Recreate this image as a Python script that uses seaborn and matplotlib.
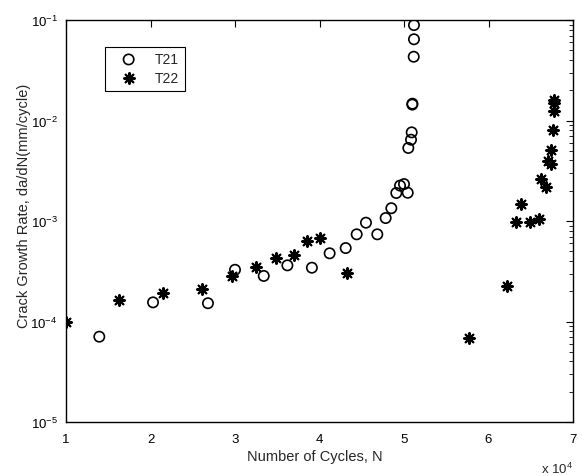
import matplotlib
matplotlib.use("Agg")
from matplotlib import pyplot as plt
from matplotlib.ticker import LogFormatterMathtext, LogLocator, FixedLocator
import pandas as pd
import seaborn as sns

# T21 specimen (circles)
t21_cycles = [13940, 20300, 26800, 30000, 33400, 36200, 39100, 41200, 43100,
              44400, 45500, 46840, 47830, 48500, 49090, 49530, 50000, 50440,
              50510, 50830, 50910, 50980, 51000, 51150, 51180, 51180]
t21_rate = [7.06e-5, 1.55e-4, 1.52e-4, 3.27e-4, 2.84e-4, 3.62e-4, 3.43e-4, 4.77e-4, 5.38e-4,
            7.37e-4, 9.62e-4, 7.37e-4, 1.07e-3, 1.34e-3, 1.90e-3, 2.25e-3, 2.33e-3, 1.91e-3,
            5.33e-3, 6.44e-3, 7.62e-3, 1.44e-2, 1.47e-2, 4.31e-2, 6.43e-2, 8.9e-2]

# T22 specimen (asterisks)
t22_cycles = [10000, 16270, 21440, 26100, 29650, 32450, 34850, 37000, 38560, 40100,
              43300, 57730, 62190, 63220, 63850, 64900, 65940, 66180, 66800, 67040,
              67360, 67360, 67600, 67750, 67790, 67800]
t22_rate = [1.0e-4, 1.64e-4, 1.92e-4, 2.10e-4, 2.82e-4, 3.46e-4, 4.26e-4, 4.62e-4, 6.28e-4, 6.73e-4,
            3.02e-4, 6.8e-5, 2.24e-4, 9.7e-4, 1.47e-3, 9.84e-4, 1.05e-3, 2.6e-3, 2.18e-3, 3.93e-3,
            3.72e-3, 5.13e-3, 8.03e-3, 1.24e-2, 1.5e-2, 1.61e-2]

x_ticks = [10000, 20000, 30000, 40000, 50000, 60000, 70000]
x_tick_labels = ["1", "2", "3", "4", "5", "6", "7"]

df21 = pd.DataFrame({"N": t21_cycles, "rate": t21_rate})
df22 = pd.DataFrame({"N": t22_cycles, "rate": t22_rate})

sns.set_style("white")
plt.rcParams["font.family"] = ["Liberation Sans", "DejaVu Sans"]
plt.rcParams["mathtext.default"] = "regular"

fig = plt.figure(figsize=(5.82, 4.77), dpi=100)
ax = fig.add_axes([66 / 582, 1 - 423 / 477, 507 / 582, 402 / 477])

sns.scatterplot(data=df21, x="N", y="rate", ax=ax, marker="o", s=55,
                facecolors="none", edgecolor="black", linewidth=1.2, label="T21")
sns.scatterplot(data=df22, x="N", y="rate", ax=ax, marker=(8, 2, 0), s=60,
                color="black", linewidth=1.5, label="T22")

ax.set_yscale("log")
ax.set_xlim(10000, 70000)
ax.set_ylim(1e-5, 1e-1)
ax.xaxis.set_major_locator(FixedLocator(x_ticks))
ax.set_xticklabels(x_tick_labels)
ax.yaxis.set_major_locator(LogLocator(base=10, numticks=10))
ax.yaxis.set_minor_locator(LogLocator(base=10, subs=range(2, 10), numticks=10))
ax.yaxis.set_major_formatter(LogFormatterMathtext())

ax.tick_params(which="both", direction="in", top=True, right=True,
               colors="black", labelsize=9.5)
ax.tick_params(which="major", length=5, width=0.8, pad=6)
ax.tick_params(axis="x", which="major", pad=8)
ax.tick_params(which="minor", length=3, width=0.6)
for sp in ax.spines.values():
    sp.set_color("black")
    sp.set_linewidth(1.0)

ax.set_xlabel("Number of Cycles, N", fontsize=10.5)
ax.set_ylabel("Crack Growth Rate, da/dN(mm/cycle)", fontsize=10.5)
ax.xaxis.set_label_coords(0.491, -0.068)
ax.yaxis.set_label_coords(-0.07, 0.54)
ax.text(1.0, -0.115, r"x $10^{4}$", transform=ax.transAxes,
        ha="right", va="center", fontsize=9.5)

leg = ax.legend(loc="upper left", bbox_to_anchor=(0.077, 0.934), borderaxespad=0,
                fancybox=False, edgecolor="black", framealpha=1, fontsize=10,
                handlelength=2.6, handletextpad=0.6, borderpad=0.4, labelspacing=0.35)
leg.get_frame().set_linewidth(0.8)

fig.savefig("out.png", dpi=100)
